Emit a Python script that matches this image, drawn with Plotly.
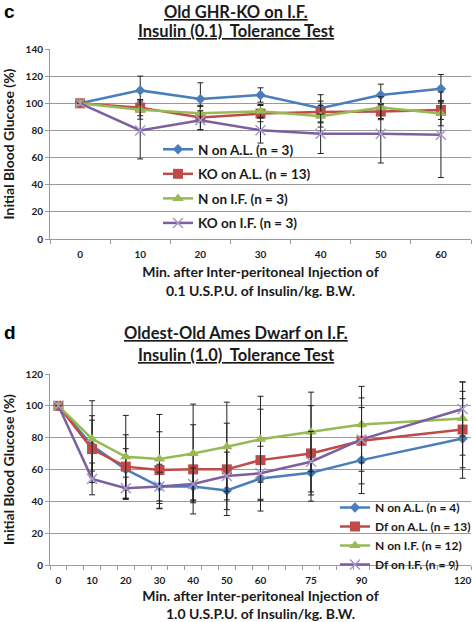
import plotly.graph_objects as go

# ---------------- Panel c data ----------------
c_minutes = [0, 10, 20, 30, 40, 50, 60]
c_n_al = [100, 109.5, 103.1, 106.1, 96.3, 106.1, 110.7]
c_n_al_err = [0, 10.5, 12, 5.3, 10, 8, 10.5]
c_ko_al = [100, 96.8, 89.5, 92.4, 93.6, 93.9, 95.1]
c_ko_al_err = [0, 6, 9, 6, 8, 6, 7]
c_n_if = [100, 95.3, 92.7, 94.1, 90.5, 96.8, 92.4]
c_n_if_err = [0, 7, 5, 5, 8, 8, 9]
c_ko_if = [100, 80, 87.5, 80.2, 77.5, 77.5, 76.8]
c_ko_if_err = [0, 21, 7, 9.5, 14.5, 21.5, 31.5]
c_names = ["N on A.L. (n = 3)", "KO on A.L. (n = 13)", "N on I.F. (n = 3)", "KO on I.F. (n = 3)"]
c_yticks = [0, 20, 40, 60, 80, 100, 120, 140]

# ---------------- Panel d data ----------------
d_minutes = [0, 10, 20, 30, 40, 50, 60, 75, 90, 120]
d_n_al = [100, 75, 60.1, 49.3, 49.3, 46.8, 54.3, 58, 65.9, 79.5]
d_n_al_err = [0, 16, 13, 14, 9, 12, 13, 14, 21, 25]
d_df_al = [100, 72.8, 61.8, 59.7, 60.1, 60.1, 65.9, 70.1, 78, 85.1]
d_df_al_err = [0, 21, 20, 24, 28, 29, 32, 30, 27, 24]
d_n_if = [100, 79.2, 68, 66.6, 70.1, 74.3, 79, 83.6, 88.2, 92]
d_n_if_err = [0, 24, 26, 28, 31, 28, 27, 25, 24, 23]
d_df_if = [100, 54.1, 48.2, 49.3, 50.9, 55.9, 57.6, 64.9, 78.9, 98]
d_df_if_err = [0, 10, 7, 9, 10, 15, 17, 19, 20, 17]
d_names = ["N on A.L. (n = 4)", "Df on A.L. (n = 13)", "N on I.F. (n = 12)", "Df on I.F. (n = 9)"]
d_yticks = [0, 20, 40, 60, 80, 100, 120]

colors = ["#4A7EBB", "#BE4B48", "#98B954", "#7D5FA0"]
symbols = ["diamond", "square", "triangle-up", "x-thin"]
msizes = [8, 10, 10, 10]

FONT = "Lato"
TXT = "#1a1a1a"

fig = go.Figure()


def add_series(xs, ys, errs, name, i, xa, ya, legend, group):
    sym = symbols[i]
    marker = dict(symbol=sym, size=msizes[i], color=colors[i])
    if sym == "x-thin":
        marker["line"] = dict(width=1.5, color="#A898C8")
    kw = dict(legendgroup=group) if group else {}
    fig.add_trace(go.Scatter(
        x=xs, y=ys, name=name, mode="lines+markers",
        line=dict(color=colors[i], width=2.5),
        marker=marker,
        error_y=dict(type="data", array=errs, visible=True,
                     color="#222222", thickness=1, width=3),
        xaxis=xa, yaxis=ya, legend=legend, **kw
    ))


c_series = [(c_n_al, c_n_al_err), (c_ko_al, c_ko_al_err), (c_n_if, c_n_if_err), (c_ko_if, c_ko_if_err)]
for i, (ys, es) in enumerate(c_series):
    add_series(c_minutes, ys, es, c_names[i], i, "x", "y", "legend", "c%d" % i)

d_series = [(d_n_al, d_n_al_err), (d_df_al, d_df_al_err), (d_n_if, d_n_if_err), (d_df_if, d_df_if_err)]
for i, (ys, es) in enumerate(d_series):
    add_series(d_minutes, ys, es, d_names[i], i, "x2", "y2", "legend2", None)

tickfont = dict(family=FONT, size=10, color=TXT, weight="bold")
titlefont = dict(family=FONT, size=14, color=TXT, weight="bold")

xdom = [50 / 472, 471 / 472]
common_x = dict(showgrid=False, zeroline=False, showline=True, linecolor="#9a9a9a",
                linewidth=1, ticks="", tickfont=tickfont, ticklabelstandoff=6, automargin=False)
common_y = dict(showgrid=True, gridcolor="#9a9a9a", gridwidth=1, zeroline=False,
                showline=True, linecolor="#9a9a9a", linewidth=1, ticks="outside",
                ticklen=4, tickcolor="#9a9a9a", tickfont=tickfont, automargin=False)

fig.update_layout(
    width=472, height=622,
    margin=dict(l=0, r=0, t=0, b=0, autoexpand=False),
    paper_bgcolor="white", plot_bgcolor="white",
    font=dict(family=FONT, color=TXT),
    hovermode=False,
    xaxis=dict(domain=xdom, anchor="y", range=[-5, 65],
               tickmode="array", tickvals=c_minutes, ticktext=[str(m) for m in c_minutes],
               minor=dict(tickmode="array", tickvals=[-5, 5, 15, 25, 35, 45, 55, 65],
                          ticks="outside", ticklen=4, tickcolor="#9a9a9a"),
               title=dict(text="Min. after Inter-peritoneal Injection of<br>0.1 U.S.P.U. of Insulin/kg. B.W.",
                          font=titlefont, standoff=8),
               **common_x),
    yaxis=dict(domain=[1 - 239 / 622, 1 - 49 / 622], anchor="x", range=[0, 140],
               tickmode="array", tickvals=c_yticks,
               title=dict(text="Initial Blood Glucose (%)", font=titlefont, standoff=7),
               **common_y),
    xaxis2=dict(domain=xdom, anchor="y2", range=[-2.5, 122.5],
                tickmode="array", tickvals=d_minutes, ticktext=[str(m) for m in d_minutes],
                minor=dict(tickmode="array", tickvals=[-2.5 + 5 * k for k in range(26)],
                           ticks="outside", ticklen=4, tickcolor="#9a9a9a"),
                title=dict(text="Min. after Inter-peritoneal Injection of<br>1.0 U.S.P.U. of Insulin/kg. B.W.",
                           font=titlefont, standoff=8),
                **common_x),
    yaxis2=dict(domain=[1 - 565 / 622, 1 - 374 / 622], anchor="x2", range=[0, 120],
                tickmode="array", tickvals=d_yticks,
                title=dict(text="Initial Blood Glucose (%)", font=titlefont, standoff=7),
                **common_y),
    legend=dict(x=158 / 472, y=1 - 134 / 622, xanchor="left", yanchor="top",
                bgcolor="rgba(255,255,255,0)", tracegroupgap=4,
                font=dict(family=FONT, size=13.5, color=TXT, weight="bold")),
    legend2=dict(x=335 / 472, y=1 - 493 / 622, xanchor="left", yanchor="top",
                 bgcolor="rgba(255,255,255,0)", tracegroupgap=0,
                 font=dict(family=FONT, size=12, color=TXT, weight="bold")),
    showlegend=True,
)

title_font = dict(family=FONT, size=16.5, color=TXT, weight="bold")
label_font = dict(family="Liberation Sans", size=19, color="black", weight="bold")
fig.add_annotation(text="<u>Old GHR-KO on I.F.</u>", x=236 / 472, y=1 - 12 / 622, xref="paper", yref="paper",
                   showarrow=False, font=title_font, xanchor="center", yanchor="middle")
fig.add_annotation(text="<u>Insulin (0.1)  Tolerance Test</u>", x=236 / 472, y=1 - 31 / 622, xref="paper",
                   yref="paper", showarrow=False, font=title_font, xanchor="center", yanchor="middle")
fig.add_annotation(text="<u>Oldest-Old Ames Dwarf on I.F.</u>", x=236 / 472, y=1 - 333 / 622, xref="paper",
                   yref="paper", showarrow=False, font=title_font, xanchor="center", yanchor="middle")
fig.add_annotation(text="<u>Insulin (1.0)  Tolerance Test</u>", x=236 / 472, y=1 - 355 / 622, xref="paper",
                   yref="paper", showarrow=False, font=title_font, xanchor="center", yanchor="middle")
fig.add_annotation(text="c", x=2 / 472, y=1 - 11 / 622, xref="paper", yref="paper", showarrow=False,
                   font=label_font, xanchor="left", yanchor="middle")
fig.add_annotation(text="d", x=2 / 472, y=1 - 332 / 622, xref="paper", yref="paper", showarrow=False,
                   font=label_font, xanchor="left", yanchor="middle")

fig.write_html("out.html", config={"displayModeBar": False},
               post_script="document.body.style.margin='0';document.body.style.overflow='hidden';")
